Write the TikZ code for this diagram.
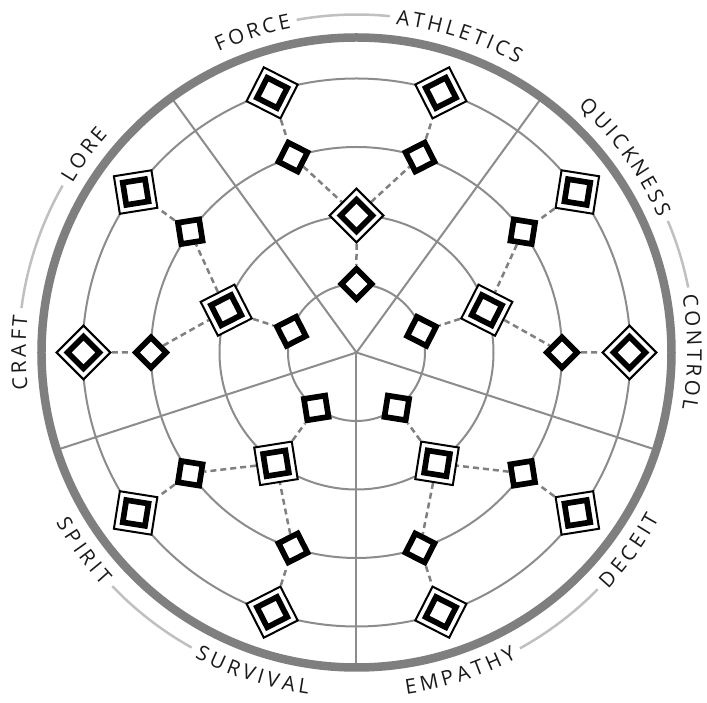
\documentclass[tikz,border=0pt]{standalone}
\usepackage{fontspec}
\setmainfont{Open Sans}
\pgfdeclarelayer{back}
\pgfdeclarelayer{mid}
\pgfsetlayers{back,mid,main}
\definecolor{ringgray}{HTML}{8C8C8C}
\definecolor{rimgray}{HTML}{7F7F7F}
\definecolor{conngray}{HTML}{808080}
\definecolor{arcgray}{HTML}{C0C0C0}
\definecolor{textblack}{HTML}{1A1A1A}
\font\labprim="Open Sans" at 20.5pt
\newcommand\labfont{\labprim}
\newlength\letw
\newlength\totw
\newlength\trklen
\setlength\trklen{3.6pt}
\def\rmid{338}
\def\capht{14.6}
\def\gapang{1.2}
\tikzset{
  ring/.style={draw=ringgray, line width=2pt},
  spoke/.style={draw=ringgray, line width=2pt},
  rim/.style={draw=rimgray, line width=8.5pt},
  conn/.style={draw=conngray, line width=2.5pt, dash pattern=on 6pt off 4pt},
  snode/.style={draw=black, fill=white, line width=5.7pt, minimum size=21.5pt, inner sep=0pt, shape=rectangle},
  dout/.style={draw=black, fill=white, line width=2pt, minimum size=38pt, inner sep=0pt, shape=rectangle},
  din/.style={draw=black, fill=white, line width=5.7pt, minimum size=22.5pt, inner sep=0pt, shape=rectangle},
  letter/.style={anchor=base, inner sep=0pt, font=\labfont, text=textblack},
  labarc/.style={draw=arcgray, line width=2.5pt},
}
\newcommand\snd[3]{\node[snode, rotate=#2+45] (#1) at (#2:#3pt) {};}
\newcommand\dnd[3]{\node[dout, rotate=#2+45] (#1) at (#2:#3pt) {};
  \node[din, rotate=#2+45] (#1-in) at (#1.center) {};}
\newcommand\arclabel[4]{%
  \global\totw=0pt
  \foreach \ch in {#4}{\settowidth{\letw}{\labfont\ch}\global\advance\totw by \letw\global\advance\totw by \trklen}%
  \global\advance\totw by -\trklen
  \pgfmathsetmacro\halfang{(\totw/2)/\rmid*180/pi}%
  \expandafter\xdef\csname hw#1\endcsname{\halfang}%
  \pgfmathsetmacro\curang{#2+(#3)*\halfang}%
  \global\let\curang\curang
  \foreach \ch [count=\i] in {#4}{%
    \settowidth{\letw}{\labfont\ch}%
    \pgfmathsetmacro\ang{\curang-(#3)*(\letw/2)/\rmid*180/pi}%
    \pgfmathsetmacro\rr{\rmid-(#3)*\capht/2}%
    \pgfmathsetmacro\rot{\ang-90*(#3)}%
    \node[letter, rotate=\rot] (#1-\i) at (\ang:\rr pt) {\ch};
    \pgfmathsetmacro\nxt{\curang-(#3)*(\letw+\trklen)/\rmid*180/pi}%
    \global\let\curang\nxt
  }%
}
\newcommand\labarcdraw[2]{\draw[labarc] (#1:\rmid pt) arc[start angle=#1, end angle=#2, radius=\rmid pt];}
\begin{document}
\begin{tikzpicture}
\useasboundingbox (-356.5pt,-350.5pt) rectangle (350.5pt,352.5pt);
\coordinate (O) at (0,0);
\begin{pgfonlayer}{back}
  \fill[white] (-356.5pt,-350.5pt) rectangle (350.5pt,352.5pt);
  \foreach \r in {68.5,137,205.5,274}{\draw[ring] (O) circle[radius=\r pt];}
  \foreach \a in {54,126,198,270,342}{\draw[spoke] (O) -- (\a:315pt);}
\end{pgfonlayer}
\draw[rim] (O) circle[radius=315pt];
% nodes
\foreach \c/\k in {90/a,18/b,-54/c,-126/d,162/e}{
  \pgfmathsetmacro\la{\c+18}
  \pgfmathsetmacro\ra{\c-18}
  \dnd{\k1}{\la}{273}
  \snd{\k2}{\la}{205.5}
  \dnd{\k3}{\c}{137}
  \snd{\k4}{\ra}{205.5}
  \dnd{\k5}{\ra}{273}
  \snd{\k6}{\c}{68.5}
}
\begin{pgfonlayer}{mid}
  \foreach \k in {a,b,c,d,e}{
    \draw[conn] (\k1) -- (\k2);
    \draw[conn] (\k2) -- (\k3);
    \draw[conn] (\k3) -- (\k4);
    \draw[conn] (\k4) -- (\k5);
    \draw[conn] (\k3) -- (\k6);
  }
\end{pgfonlayer}
% labels
\arclabel{FORCE}{108}{1}{F,O,R,C,E}
\arclabel{ATHLETICS}{72}{1}{A,T,H,L,E,T,I,C,S}
\arclabel{QUICKNESS}{36}{1}{Q,U,I,C,K,N,E,S,S}
\arclabel{CONTROL}{0}{1}{C,O,N,T,R,O,L}
\arclabel{DECEIT}{-36}{-1}{D,E,C,E,I,T}
\arclabel{EMPATHY}{-72}{-1}{E,M,P,A,T,H,Y}
\arclabel{SURVIVAL}{-108}{-1}{S,U,R,V,I,V,A,L}
\arclabel{SPIRIT}{-144}{-1}{S,P,I,R,I,T}
\arclabel{CRAFT}{180}{1}{C,R,A,F,T}
\arclabel{LORE}{144}{1}{L,O,R,E}
% arcs between label pairs
\pgfmathsetmacro\aa{108-\hwFORCE-\gapang}\pgfmathsetmacro\ab{72+\hwATHLETICS+\gapang}
\labarcdraw{\aa}{\ab}
\pgfmathsetmacro\aa{36-\hwQUICKNESS-\gapang}\pgfmathsetmacro\ab{\hwCONTROL+\gapang}
\labarcdraw{\aa}{\ab}
\pgfmathsetmacro\aa{-72+\hwEMPATHY+\gapang}\pgfmathsetmacro\ab{-36-\hwDECEIT-\gapang}
\labarcdraw{\aa}{\ab}
\pgfmathsetmacro\aa{-144+\hwSPIRIT+\gapang}\pgfmathsetmacro\ab{-108-\hwSURVIVAL-\gapang}
\labarcdraw{\aa}{\ab}
\pgfmathsetmacro\aa{144+\hwLORE+\gapang}\pgfmathsetmacro\ab{180-\hwCRAFT-\gapang}
\labarcdraw{\aa}{\ab}
\end{tikzpicture}
\end{document}
